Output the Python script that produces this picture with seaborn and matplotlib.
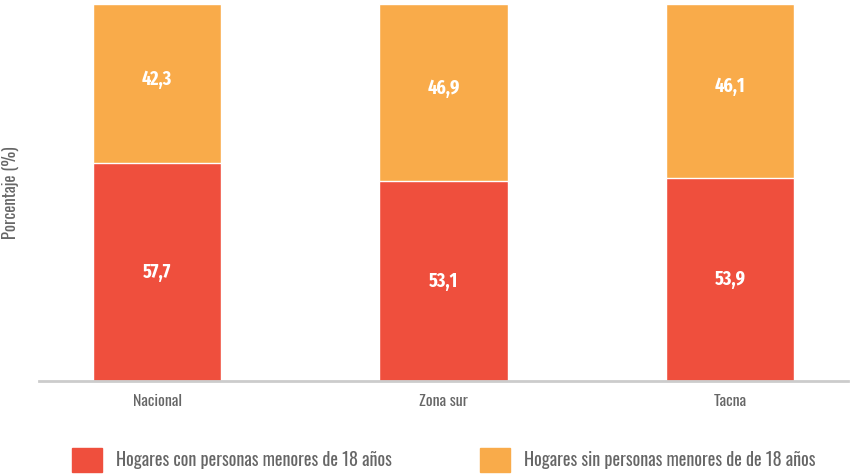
import matplotlib
matplotlib.use("Agg")
import matplotlib.pyplot as plt
import matplotlib.patches as mpatches
import pandas as pd
import seaborn as sn

categorias = ["Nacional", "Zona sur", "Tacna"]
con_menores = [57.7, 53.1, 53.9]
sin_menores = [42.3, 46.9, 46.1]
etiqueta_con = "Hogares con personas menores de 18 años"
etiqueta_sin = "Hogares sin personas menores de de 18 años"

ROJO = "#EF4F3D"
NARANJA = "#F9AB4A"
GRIS = "#666666"

sn.set_style("white")
plt.rcParams["font.family"] = ["Oswald", "DejaVu Sans"]
# Oswald has no usable bold here, so the numbers use another narrow face
NUMEROS = ["Fira Sans Extra Condensed", "DejaVu Sans"]

df = pd.DataFrame({
    "cat": categorias,
    "con": con_menores,
    "total": [a + b for a, b in zip(con_menores, sin_menores)],
})

fig = plt.figure(figsize=(8.5, 4.75), dpi=100)
ax = fig.add_axes([39 / 850, 1 - 381 / 475, 809 / 850, 377 / 475])

sn.barplot(data=df, x="cat", y="total", color=NARANJA, width=0.447,
           saturation=1, ax=ax)
sn.barplot(data=df, x="cat", y="con", color=ROJO, width=0.447,
           saturation=1, ax=ax)

for i, (a, b) in enumerate(zip(con_menores, sin_menores)):
    ax.text(i, a / 2, f"{a:.1f}".replace(".", ","), ha="center", va="center",
            color="white", fontsize=14, fontweight="bold", family=NUMEROS)
    ax.text(i, a + b / 2 + 1.2, f"{b:.1f}".replace(".", ","), ha="center", va="center",
            color="white", fontsize=14, fontweight="bold", family=NUMEROS)

ax.set_xlim(-0.412, 2.412)
ax.set_ylim(0, 100)
ax.set_yticks([])
ax.set_xlabel("")
ax.set_ylabel("Porcentaje (%)", color=GRIS, fontsize=12, fontweight="light")
ax.yaxis.set_label_coords(-20 / 809, 0.5)
ax.tick_params(axis="x", length=0, pad=9, labelsize=11.5, labelcolor=GRIS)
for t in ax.get_xticklabels():
    t.set_fontweight("light")

for s in ["top", "right", "left"]:
    ax.spines[s].set_visible(False)
ax.spines["bottom"].set_color("#cccccc")
ax.spines["bottom"].set_linewidth(2)

# two legends, each placed where the reference has it
for x0, col, lab in [(72, ROJO, etiqueta_con), (480, NARANJA, etiqueta_sin)]:
    leg = fig.legend(handles=[mpatches.Patch(color=col, label=lab)],
                     loc="center left", bbox_to_anchor=(x0 / 850, 1 - 460 / 475),
                     frameon=False,
                     prop={"family": ["Oswald", "DejaVu Sans"], "size": 13, "weight": "light"},
                     handlelength=1.65, handleheight=1.6,
                     handletextpad=0.8, borderpad=0, borderaxespad=0)
    for t in leg.get_texts():
        t.set_color(GRIS)

plt.savefig("out.png", dpi=100)
plt.close()
